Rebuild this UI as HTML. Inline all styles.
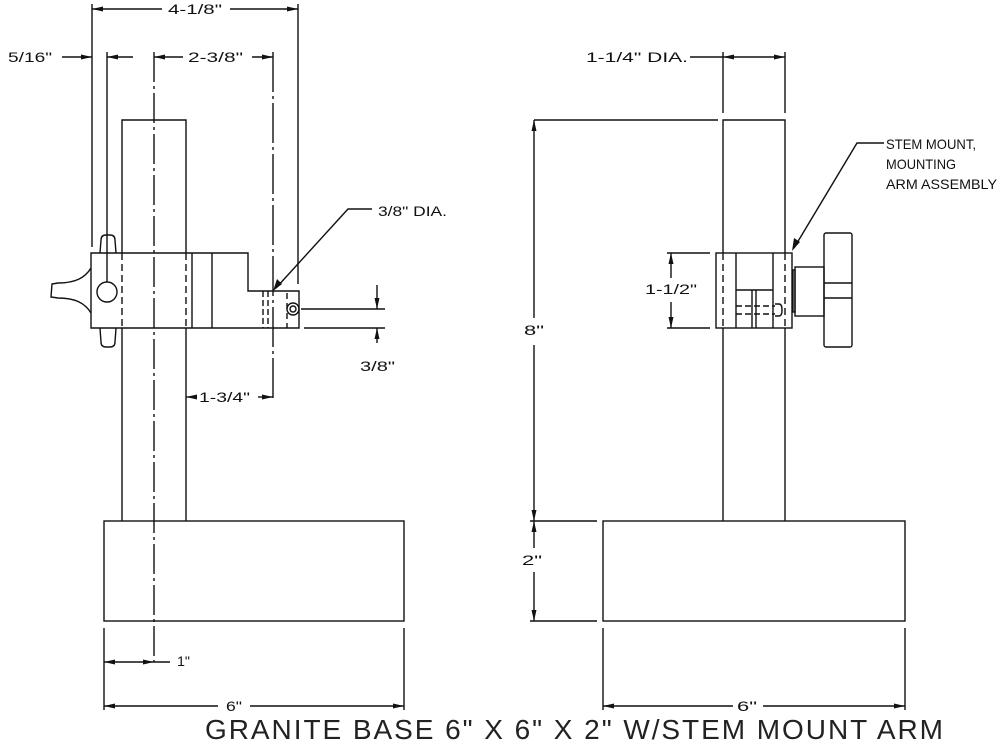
<!DOCTYPE html>
<html><head><meta charset="utf-8"><style>
html,body{margin:0;padding:0;background:#fff;}
svg{display:block;}
text{font-family:"Liberation Sans",sans-serif;fill:#111;}
</style></head><body>
<svg width="1000" height="750" viewBox="0 0 1000 750" xmlns="http://www.w3.org/2000/svg">
<g stroke="#111" stroke-width="1.4" fill="none">
<!-- ===== LEFT VIEW ===== -->
<line x1="92" y1="4" x2="92" y2="247"/>
<line x1="298" y1="4" x2="298" y2="284"/>
<line x1="107" y1="52" x2="107" y2="282"/>
<line x1="92" y1="9" x2="162" y2="9"/>
<line x1="230" y1="9" x2="298" y2="9"/>
<line x1="62" y1="57" x2="92" y2="57"/>
<line x1="107" y1="57" x2="133" y2="57"/>
<line x1="154" y1="57" x2="183" y2="57"/>
<line x1="252" y1="57" x2="273" y2="57"/>
<line x1="154" y1="52" x2="154" y2="662" stroke-dasharray="30 4 3 4"/>
<line x1="273" y1="52" x2="273" y2="400" stroke-dasharray="40 4 3 4"/>
<polyline points="122,253 122,120 186,120 186,253"/>
<line x1="122" y1="328" x2="122" y2="521"/>
<line x1="186" y1="328" x2="186" y2="521"/>
<line x1="122" y1="253" x2="122" y2="328" stroke-dasharray="7 4"/>
<line x1="186" y1="253" x2="186" y2="328" stroke-dasharray="7 4"/>
<polygon points="91,253 248,253 248,291 299,291 299,328 91,328"/>
<line x1="192" y1="253" x2="192" y2="328"/>
<line x1="212" y1="253" x2="212" y2="328"/>
<line x1="263" y1="291" x2="263" y2="328" stroke-dasharray="6 3"/>
<line x1="268" y1="291" x2="268" y2="328" stroke-dasharray="6 3"/>
<line x1="287" y1="293" x2="287" y2="328" stroke-dasharray="6 4"/>
<circle cx="293" cy="309" r="6"/>
<circle cx="293" cy="309" r="3"/>
<circle cx="107" cy="292" r="10"/>
<path d="M100,253 L101,240 Q101,235 106,235 L110,235 Q115,235 115,240 L116,253"/>
<path d="M100,328 L101,342 Q101,347 106,347 L110,347 Q115,347 115,342 L116,328"/>
<path d="M91,268 C85,278 75,283 58,283 L52,284 L51,297 L58,298 C75,298 85,303 91,313"/>
<polyline points="372,209 348,209 276,288"/>
<line x1="301" y1="309" x2="385" y2="309"/>
<line x1="304" y1="328" x2="385" y2="328"/>
<line x1="377" y1="285" x2="377" y2="309"/>
<line x1="377" y1="328" x2="377" y2="343"/>
<line x1="186" y1="397" x2="195" y2="397"/>
<line x1="258" y1="397" x2="273" y2="397"/>
<rect x="104" y="521" width="300" height="100"/>
<line x1="104" y1="628" x2="104" y2="710"/>
<line x1="404" y1="628" x2="404" y2="710"/>
<line x1="104" y1="662" x2="170" y2="662"/>
<line x1="104" y1="706" x2="218" y2="706"/>
<line x1="250" y1="706" x2="404" y2="706"/>

<!-- ===== RIGHT VIEW ===== -->
<line x1="723" y1="52" x2="723" y2="113"/>
<line x1="785" y1="52" x2="785" y2="113"/>
<line x1="690" y1="57" x2="785" y2="57"/>
<polyline points="723,253 723,120 785,120 785,253"/>
<line x1="723" y1="328" x2="723" y2="521"/>
<line x1="785" y1="328" x2="785" y2="521"/>
<line x1="723" y1="253" x2="723" y2="328" stroke-dasharray="7 4"/>
<line x1="785" y1="253" x2="785" y2="328" stroke-dasharray="7 4"/>
<line x1="534" y1="120" x2="718" y2="120"/>
<line x1="534" y1="120" x2="534" y2="318"/>
<line x1="534" y1="345" x2="534" y2="548"/>
<line x1="534" y1="572" x2="534" y2="621"/>
<line x1="530" y1="521" x2="597" y2="521"/>
<line x1="530" y1="621" x2="597" y2="621"/>
<rect x="716" y="253" width="76" height="75"/>
<line x1="736" y1="253" x2="736" y2="328"/>
<line x1="773" y1="253" x2="773" y2="328"/>
<line x1="736" y1="290" x2="773" y2="290"/>
<line x1="752" y1="290" x2="752" y2="328"/>
<line x1="756" y1="290" x2="756" y2="328"/>
<line x1="736" y1="306" x2="775" y2="306" stroke-dasharray="6 3"/>
<line x1="736" y1="314" x2="775" y2="314" stroke-dasharray="6 3"/>
<path d="M775,304 L779,304 Q782,304 782,310 Q782,316 779,316 L775,316"/>
<rect x="793" y="270" width="2" height="42"/>
<rect x="795" y="267" width="29" height="49"/>
<rect x="824" y="233" width="28" height="114" rx="2"/>
<line x1="824" y1="283" x2="852" y2="283"/>
<line x1="824" y1="298" x2="852" y2="298"/>
<line x1="667" y1="253" x2="710" y2="253"/>
<line x1="667" y1="328" x2="710" y2="328"/>
<line x1="671" y1="253" x2="671" y2="278"/>
<line x1="671" y1="302" x2="671" y2="328"/>
<polyline points="884,143 857,143 794,248"/>
<rect x="603" y="521" width="302" height="100"/>
<line x1="603" y1="628" x2="603" y2="710"/>
<line x1="905" y1="628" x2="905" y2="710"/>
<line x1="603" y1="706" x2="733" y2="706"/>
<line x1="763" y1="706" x2="905" y2="706"/>
</g>

<g fill="#111" stroke="none">
<polygon points="92,9 103,6.5 103,11.5"/>
<polygon points="107,57 118,54.5 118,59.5"/>
<polygon points="154,57 165,54.5 165,59.5"/>
<polygon points="186,397 197,394.5 197,399.5"/>
<polygon points="104,662 115,659.5 115,664.5"/>
<polygon points="104,706 115,703.5 115,708.5"/>
<polygon points="723,57 734,54.5 734,59.5"/>
<polygon points="603,706 614,703.5 614,708.5"/>
<polygon points="298,9 287,6.5 287,11.5"/>
<polygon points="92,57 81,54.5 81,59.5"/>
<polygon points="273,57 262,54.5 262,59.5"/>
<polygon points="273,397 262,394.5 262,399.5"/>
<polygon points="154,662 143,659.5 143,664.5"/>
<polygon points="404,706 393,703.5 393,708.5"/>
<polygon points="785,57 774,54.5 774,59.5"/>
<polygon points="905,706 894,703.5 894,708.5"/>
<polygon points="377,328 374.5,339 379.5,339"/>
<polygon points="534,120 531.5,131 536.5,131"/>
<polygon points="534,521 531.5,532 536.5,532"/>
<polygon points="671,253 668.5,264 673.5,264"/>
<polygon points="377,309 374.5,298 379.5,298"/>
<polygon points="534,521 531.5,510 536.5,510"/>
<polygon points="534,621 531.5,610 536.5,610"/>
<polygon points="671,328 668.5,317 673.5,317"/>
<polygon points="273,291 277,279 282,284"/>
<polygon points="792,251 794,238 800,242"/>
</g>

<g font-size="14">
<text x="168" y="14" textLength="54" lengthAdjust="spacingAndGlyphs">4-1/8"</text>
<text x="8" y="62" textLength="44" lengthAdjust="spacingAndGlyphs">5/16"</text>
<text x="188" y="62" textLength="55" lengthAdjust="spacingAndGlyphs">2-3/8"</text>
<text x="378" y="216" textLength="69" lengthAdjust="spacingAndGlyphs">3/8" DIA.</text>
<text x="360" y="371" textLength="35" lengthAdjust="spacingAndGlyphs">3/8"</text>
<text x="199" y="402" textLength="51" lengthAdjust="spacingAndGlyphs">1-3/4"</text>
<text x="177" y="666" textLength="13" lengthAdjust="spacingAndGlyphs">1"</text>
<text x="226" y="711" textLength="16" lengthAdjust="spacingAndGlyphs">6"</text>
<text x="586" y="62" textLength="102" lengthAdjust="spacingAndGlyphs">1-1/4" DIA.</text>
<text x="524" y="335" textLength="20" lengthAdjust="spacingAndGlyphs">8"</text>
<text x="522" y="565" textLength="20" lengthAdjust="spacingAndGlyphs">2"</text>
<text x="645" y="294" textLength="52" lengthAdjust="spacingAndGlyphs">1-1/2"</text>
<text x="737" y="711" textLength="20" lengthAdjust="spacingAndGlyphs">6"</text>
<text x="886" y="149" textLength="90" lengthAdjust="spacingAndGlyphs">STEM MOUNT,</text>
<text x="886" y="169" textLength="70" lengthAdjust="spacingAndGlyphs">MOUNTING</text>
<text x="886" y="189" textLength="111" lengthAdjust="spacingAndGlyphs">ARM ASSEMBLY</text>
</g>
<text x="205" y="739" font-size="28" style="fill:#222" textLength="738" lengthAdjust="spacing">GRANITE BASE 6" X 6" X 2" W/STEM MOUNT ARM</text>
</svg>
</body></html>
